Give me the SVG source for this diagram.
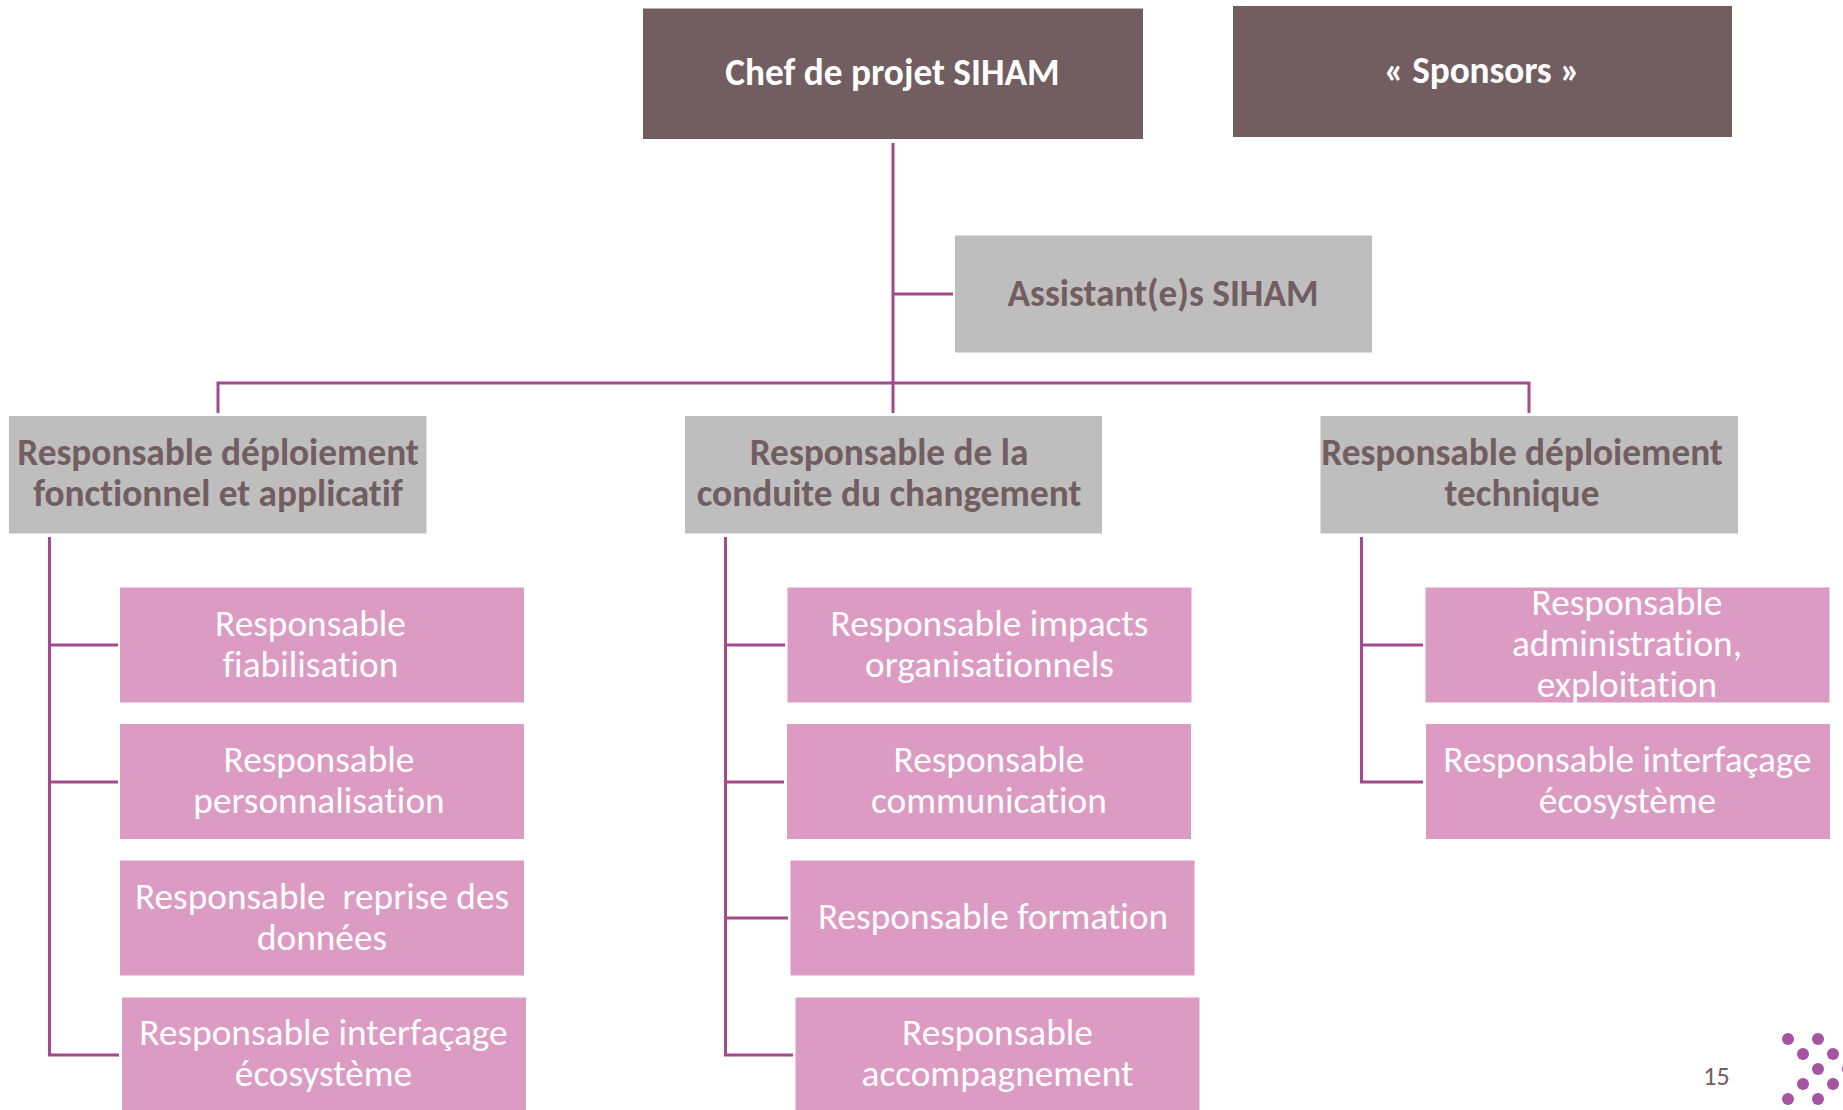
<svg xmlns="http://www.w3.org/2000/svg" width="1843" height="1110" viewBox="0 0 1843 1110">
<style>
text{font-family:Carlito,Lato,"Open Sans","Noto Sans",sans-serif;text-anchor:middle;font-variant-ligatures:none}
.d{fill:#725e60}.g{fill:#bebebe}.p{fill:#dc9bc3}
.dt{fill:#fff;font-size:37.300px;font-weight:700}
.gt{fill:#725e60;font-size:37.300px;font-weight:700}
.pt{fill:#fff;font-size:37.300px}
#connectors path{fill:none;stroke:#a34a8c;stroke-width:3}
.dot{fill:#a5559f}
</style>
<rect width="1843" height="1110" fill="#fff"/>
<g id="connectors">
<path d="M893 143V413M893 294H953M218 413V383H1529V413"/>
<path d="M49.500 537V1055H119M49.500 645H118M49.500 782H118"/>
<path d="M725.500 537V1055H793M725.500 645H785M725.500 782H784M725.500 918H788"/>
<path d="M1361.500 537V782H1423M1361.500 645H1423"/>
</g>
<g id="chef"><rect class="d" x="643" y="8.500" width="500" height="130.500"/><text class="dt" x="892.500" y="85">Chef de projet SIHAM</text></g>
<g id="sponsors"><rect class="d" x="1233" y="6" width="499" height="131"/><text class="dt" x="1482" y="83" textLength="196">« Sponsors »</text></g>
<g id="assistant"><rect class="g" x="955" y="235.500" width="417" height="117"/><text class="gt" x="1163" y="305.500">Assistant(e)s SIHAM</text></g>
<g id="r-fonctionnel"><rect class="g" x="9" y="416" width="417.500" height="117.500"/><text class="gt" x="218" y="465">Responsable déploiement</text><text class="gt" x="218" y="506">fonctionnel et applicatif</text></g>
<g id="r-conduite"><rect class="g" x="685" y="416" width="417" height="117.500"/><text class="gt" x="889" y="465">Responsable de la</text><text class="gt" x="889" y="506">conduite du changement</text></g>
<g id="r-technique"><rect class="g" x="1320.500" y="416" width="417.500" height="117.500"/><text class="gt" x="1522" y="465">Responsable déploiement</text><text class="gt" x="1522" y="506">technique</text></g>
<g id="fiabilisation"><rect class="p" x="120" y="587.500" width="404" height="115"/><text class="pt" x="310.500" y="636">Responsable</text><text class="pt" x="310.500" y="677">fiabilisation</text></g>
<g id="personnalisation"><rect class="p" x="120" y="724" width="404" height="115"/><text class="pt" x="319" y="772">Responsable</text><text class="pt" x="319" y="813">personnalisation</text></g>
<g id="reprise"><rect class="p" x="120" y="860.500" width="404" height="115"/><text class="pt" x="322" y="909" xml:space="preserve">Responsable  reprise des</text><text class="pt" x="322" y="950">données</text></g>
<g id="interfacage1"><rect class="p" x="122" y="997.500" width="404" height="112.500"/><text class="pt" x="323.500" y="1045">Responsable interfaçage</text><text class="pt" x="323.500" y="1086">écosystème</text></g>
<g id="impacts"><rect class="p" x="787.500" y="587.500" width="404" height="115"/><text class="pt" x="989.500" y="636">Responsable impacts</text><text class="pt" x="989.500" y="677">organisationnels</text></g>
<g id="communication"><rect class="p" x="787" y="724" width="404" height="115"/><text class="pt" x="989" y="772">Responsable</text><text class="pt" x="989" y="813">communication</text></g>
<g id="formation"><rect class="p" x="790.500" y="860.500" width="404" height="115"/><text class="pt" x="993" y="929">Responsable formation</text></g>
<g id="accompagnement"><rect class="p" x="795.500" y="997.500" width="404" height="112.500"/><text class="pt" x="997.500" y="1045">Responsable</text><text class="pt" x="997.500" y="1086">accompagnement</text></g>
<g id="administration"><rect class="p" x="1425.500" y="587.500" width="404" height="115"/><text class="pt" x="1627" y="615">Responsable</text><text class="pt" x="1627" y="656">administration,</text><text class="pt" x="1627" y="697">exploitation</text></g>
<g id="interfacage2"><rect class="p" x="1426" y="724" width="404" height="115"/><text class="pt" x="1627.500" y="772">Responsable interfaçage</text><text class="pt" x="1627.500" y="813">écosystème</text></g>
<text x="1716.500" y="1085" style="fill:#725e60;font-size:26px">15</text>
<g id="logo" class="dot"><circle cx="1788" cy="1039" r="6"/><circle cx="1818" cy="1039" r="6"/><circle cx="1803" cy="1054" r="6"/><circle cx="1833" cy="1054" r="6"/><circle cx="1818" cy="1069" r="6"/><circle cx="1848" cy="1069" r="6"/><circle cx="1803" cy="1084" r="6"/><circle cx="1833" cy="1084" r="6"/><circle cx="1788" cy="1099" r="6"/><circle cx="1818" cy="1099" r="6"/></g>
</svg>
